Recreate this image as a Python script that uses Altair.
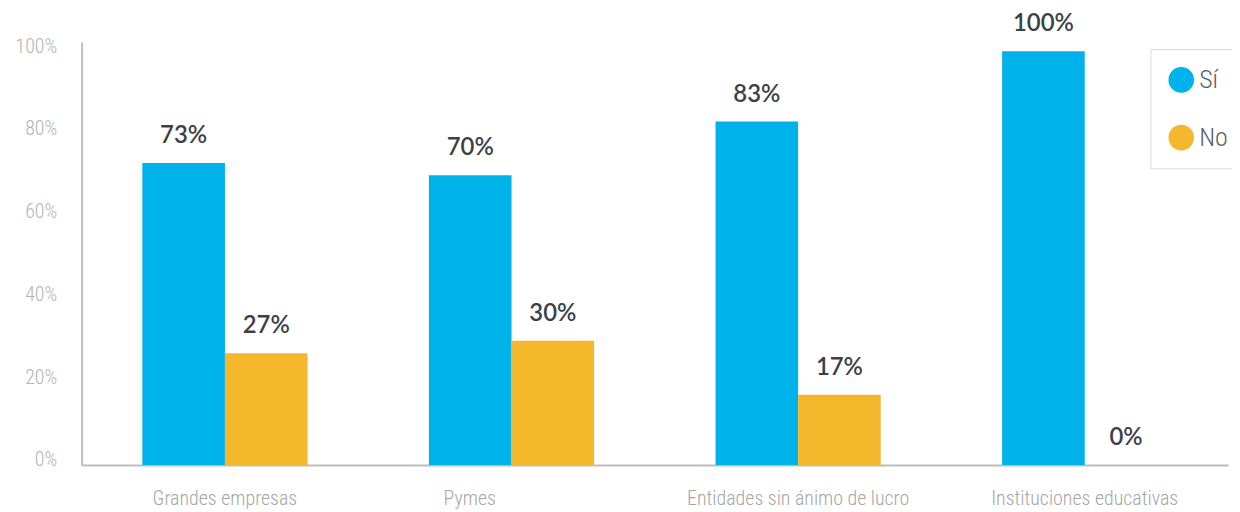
import altair as alt
import pandas as pd

categories = ["Grandes empresas", "Pymes", "Entidades sin ánimo de lucro", "Instituciones educativas"]
series = ["Sí", "No"]
si_values = [73, 70, 83, 100]
no_values = [27, 30, 17, 0]
tick_values = [0, 20, 40, 60, 80, 100]

rows = []
for c, s, n in zip(categories, si_values, no_values):
    rows.append({"categoria": c, "respuesta": "Sí", "valor": s})
    rows.append({"categoria": c, "respuesta": "No", "valor": n})
df = pd.DataFrame(rows)
df["etiqueta"] = df["valor"].astype(str) + "%"

AXIS_FONT = "Liberation Sans Narrow, Roboto Condensed, Arial Narrow, Roboto, sans-serif"
VALUE_FONT = "Lato, Open Sans, sans-serif"
BLUE = "#00B2EA"
YELLOW = "#F5B82C"

x_enc = alt.X(
    "categoria:N",
    sort=categories,
    title=None,
    scale=alt.Scale(paddingInner=0.4236, paddingOuter=0.2118),
    axis=alt.Axis(
        labelAngle=0,
        labelFont=AXIS_FONT,
        labelFontSize=20,
        labelFontWeight=300,
        labelColor="#a6a6a6",
        labelPadding=24,
        labelLimit=0,
        labelOffset={"condition": {"test": "datum.value === 'Pymes'", "value": -42}, "value": 0},
        ticks=False,
        domainColor="#bdbdbd",
        domainWidth=2,
        grid=False,
    ),
)
xoff = alt.XOffset("respuesta:N", sort=series, scale=alt.Scale(paddingInner=0, paddingOuter=0))
y_enc = alt.Y(
    "valor:Q",
    title=None,
    scale=alt.Scale(domain=[0, 102.2], nice=False),
    axis=alt.Axis(
        values=tick_values,
        labelExpr="datum.value + '%'",
        labelFont=AXIS_FONT,
        labelFontSize=20,
        labelFontWeight=300,
        labelColor="#b3b3b3",
        labelPadding=25,
        labelOffset=-5,
        ticks=False,
        domainColor="#bdbdbd",
        domainWidth=2,
        grid=False,
    ),
)

bars = alt.Chart(df).mark_bar(size=83).encode(
    x=x_enc,
    xOffset=xoff,
    y=y_enc,
    color=alt.Color(
        "respuesta:N",
        sort=series,
        scale=alt.Scale(domain=series, range=[BLUE, YELLOW]),
        legend=alt.Legend(
            title=None,
            orient="none",
            legendX=1074,
            legendY=7,
            strokeColor="#d9d9d9",
            fillColor="white",
            padding=18,
            symbolType="circle",
            symbolSize=660,
            symbolStrokeWidth=0,
            labelFont=AXIS_FONT,
            labelFontSize=26,
            labelFontWeight=300,
            labelColor="#5a5f66",
            labelOffset=5,
            rowPadding=32,
        ),
    ),
)

labels = alt.Chart(df).mark_text(
    font=VALUE_FONT, fontSize=24, fontWeight=600, color="#3c4148", baseline="middle", dy=-27
).encode(
    x=alt.X("categoria:N", sort=categories),
    xOffset=alt.XOffset("respuesta:N", sort=series),
    y="valor:Q",
    text="etiqueta:N",
)

chart = (
    alt.layer(bars, labels)
    .properties(
        width=1152,
        height=425,
        autosize=alt.AutoSizeParams(type="none"),
        padding={"left": 74, "top": 33, "right": 4, "bottom": 46},
    )
    .configure_view(stroke=None)
)

chart.save("out.html", embed_options={"renderer": "svg", "actions": False})
